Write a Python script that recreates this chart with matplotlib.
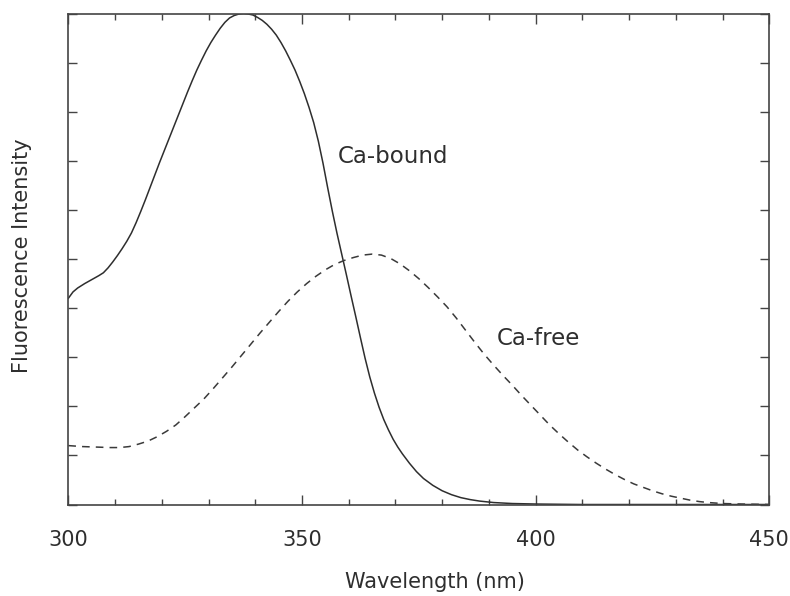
import matplotlib
matplotlib.use("Agg")
import matplotlib.pyplot as plt
from matplotlib.ticker import MultipleLocator

# Ca-bound emission spectrum (solid)
bound_wl = [300, 301, 302, 303.5, 305, 306.5, 307.5, 308.5, 309.5, 310.5,
            311.5, 312.5, 313.5, 314.5, 315.5, 316.5, 317.5, 318.5, 319.5, 320.5,
            321.5, 322.5, 323.5, 324.5, 325.5, 326.5, 327.5, 328.5, 329.5, 330.5,
            331.5, 332.5, 333.5, 334.5, 335.5, 336.5, 337.5, 338.5, 339.5, 340.5,
            341.5, 342.5, 343.5, 344.5, 345.5, 346.5, 347.5, 348.5, 349.5, 350.5,
            351.5, 352.5, 353.5, 354.5, 355.5, 356.5, 357.5, 358.5, 359.5, 360.5,
            361.5, 362.5, 363.5, 364.5, 365.5, 366.5, 367.5, 368.5, 369.5, 370.5,
            371.5, 373, 374.5, 376, 378, 380, 382, 384, 386, 388,
            391, 395, 400, 410, 450]
bound_int = [4.20, 4.33, 4.41, 4.50, 4.58, 4.66, 4.72, 4.82, 4.94, 5.07,
             5.21, 5.36, 5.53, 5.74, 5.97, 6.21, 6.46, 6.71, 6.96, 7.20,
             7.44, 7.68, 7.92, 8.16, 8.40, 8.63, 8.85, 9.05, 9.24, 9.41,
             9.56, 9.70, 9.82, 9.91, 9.96, 9.99, 10.0, 9.99, 9.97, 9.92,
             9.86, 9.78, 9.68, 9.56, 9.41, 9.24, 9.05, 8.85, 8.62, 8.37,
             8.09, 7.78, 7.40, 6.95, 6.45, 5.97, 5.52, 5.10, 4.68, 4.25,
             3.83, 3.40, 2.98, 2.60, 2.27, 1.98, 1.73, 1.52, 1.33, 1.17,
             1.03, 0.84, 0.67, 0.53, 0.39, 0.28, 0.20, 0.14, 0.10, 0.07,
             0.04, 0.02, 0.01, 0.0, 0.0]

# Ca-free emission spectrum (dashed)
free_wl = [300, 303, 306, 309, 311, 313, 315, 317, 319, 321,
           323, 325, 327, 329, 331, 333, 335, 337, 339, 341,
           343, 345, 347, 349, 351, 353, 355, 357, 359, 361,
           363, 365, 367, 369, 371, 373, 375, 377, 379, 381,
           383, 385, 387, 389, 391, 393, 395, 397, 399, 401,
           403, 405, 407, 409, 411, 413, 415, 417, 419, 421,
           423, 425, 427, 429, 431, 433, 435, 437, 440, 444, 450]
free_int = [1.20, 1.18, 1.17, 1.16, 1.16, 1.18, 1.23, 1.29, 1.38, 1.49,
            1.62, 1.79, 1.97, 2.15, 2.36, 2.58, 2.80, 3.03, 3.26, 3.49,
            3.71, 3.93, 4.14, 4.33, 4.50, 4.65, 4.78, 4.89, 4.97, 5.03,
            5.08, 5.10, 5.08, 5.01, 4.90, 4.76, 4.60, 4.42, 4.23, 4.03,
            3.80, 3.55, 3.30, 3.06, 2.84, 2.63, 2.43, 2.22, 2.02, 1.82,
            1.62, 1.44, 1.27, 1.11, 0.97, 0.84, 0.72, 0.61, 0.51, 0.42,
            0.35, 0.28, 0.22, 0.17, 0.13, 0.09, 0.06, 0.04, 0.02, 0.01, 0.0]

x_ticks = [300, 350, 400, 450]
x_tick_labels = ["300", "350", "400", "450"]

plt.rcParams['font.family'] = ['DejaVu Sans']
ink = "#2e2e2e"

fig = plt.figure(figsize=(7.9, 5.96), dpi=100)
ax = fig.add_axes([0.0865, 0.1535, 0.8873, 0.8238])

ax.plot(bound_wl, bound_int, color=ink, lw=1.1, solid_joinstyle='round')
ax.plot(free_wl, free_int, color="#3a3a3a", lw=1.1, dashes=(5, 4))

ax.set_xlim(300, 450)
ax.set_ylim(0, 10)
ax.set_xticks(x_ticks)
ax.set_xticklabels(x_tick_labels)
ax.xaxis.set_minor_locator(MultipleLocator(10))
ax.yaxis.set_major_locator(MultipleLocator(1))
ax.set_yticklabels([])
ax.tick_params(axis='x', which='major', direction='in', length=7, width=1,
               top=True, color="#444444", labelsize=15, pad=18, labelcolor=ink)
ax.tick_params(axis='x', which='minor', direction='in', length=4, width=1,
               top=True, color="#444444")
ax.tick_params(axis='y', which='major', direction='in', length=6.5, width=1,
               right=True, color="#444444", left=True)
for s in ax.spines.values():
    s.set_color("#444444")
    s.set_linewidth(1.2)

ax.text(357.7, 7.08, "Ca-bound", fontsize=16.5, color=ink, va='center', ha='left')
ax.text(391.7, 3.39, "Ca-free", fontsize=16.5, color=ink, va='center', ha='left')

fig.text(435 / 790, 1 - 582 / 596, "Wavelength (nm)", fontsize=15, color=ink,
         ha='center', va='center')
fig.text(22 / 790, 1 - 256 / 596, "Fluorescence Intensity", fontsize=15, color=ink,
         ha='center', va='center', rotation=90)

fig.savefig("out.png", dpi=100)
